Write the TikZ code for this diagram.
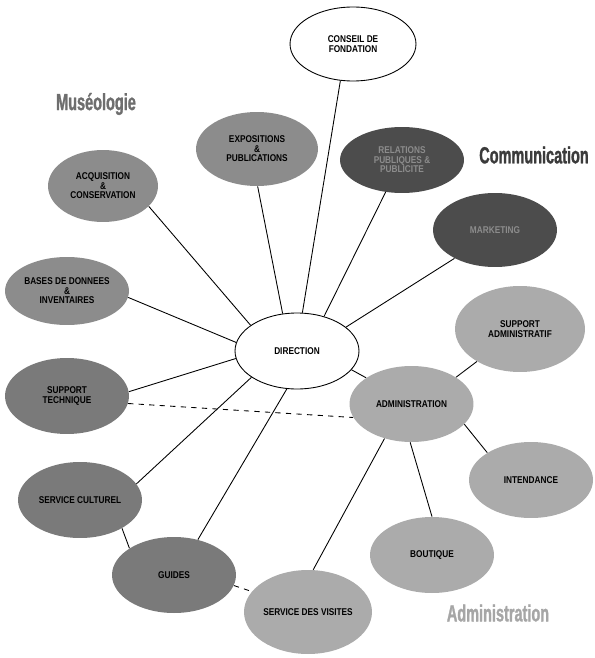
\documentclass[tikz,border=0pt]{standalone}
\usepackage{fontspec}
\usepackage{tikz}
\usetikzlibrary{shapes.geometric}
\newfontfamily\bullefont[FakeStretch=0.84]{Liberation Sans}
\newfontfamily\titrefont[FakeStretch=0.62,FakeBold=1.2]{Liberation Sans}
\definecolor{moyen}{HTML}{8C8C8C}
\definecolor{fonce}{HTML}{7A7A7A}
\definecolor{sombre}{HTML}{4C4C4C}
\definecolor{clair}{HTML}{ABABAB}
\tikzset{
  bulle/.style={ellipse, inner sep=0pt, align=center, minimum width=2.48cm, minimum height=1.52cm,
    font=\bullefont\bfseries\fontsize{5.6}{5.4}\selectfont},
  blanc/.style={bulle, draw=black, fill=white, line width=0.5pt},
  moyenne/.style={bulle, fill=moyen},
  foncee/.style={bulle, fill=fonce},
  sombree/.style={bulle, fill=sombre, text=black!45},
  claire/.style={bulle, fill=clair},
  titre/.style={font=\titrefont\bfseries\fontsize{13.3}{14}\selectfont},
  lien/.style={line width=0.5pt}
}
\begin{document}
\begin{tikzpicture}[x=0.02cm,y=-0.02cm]
 \useasboundingbox (0,0) rectangle (594,658);
 \node[titre, text=black!57] (museo) at (96,104) {Muséologie};
 \node[titre, text=black!77] (commu) at (534,155) {Communication};
 \node[titre, text=black!35] (adminlbl) at (498,613) {Administration};
 \node[blanc, minimum width=2.52cm, minimum height=1.48cm] (conseil) at (353,44) {CONSEIL DE\\FONDATION};
 \node[moyenne, minimum width=2.44cm, minimum height=1.48cm] (expo) at (257,149) {EXPOSITIONS\\\&\\PUBLICATIONS};
 \node[sombree, minimum height=1.32cm] (relations) at (402,160) {RELATIONS\\PUBLIQUES \&\\PUBLICITE};
 \node[sombree, minimum height=1.48cm] (marketing) at (495,230) {MARKETING};
 \node[moyenne, minimum width=2.2cm, minimum height=1.44cm] (acquisition) at (103,186) {ACQUISITION\\\&\\CONSERVATION};
 \node[moyenne, minimum height=1.36cm] (bases) at (67,291) {BASES DE DONNEES\\\&\\INVENTAIRES};
 \node[claire, minimum width=2.6cm, minimum height=1.72cm] (supadmin) at (520,329) {SUPPORT\\ADMINISTRATIF};
 \node[blanc] (direction) at (297,351) {DIRECTION};
 \node[foncee] (technique) at (67,396) {SUPPORT\\TECHNIQUE};
 \node[claire] (admin) at (411.5,404) {ADMINISTRATION};
 \node[claire] (intendance) at (531,480) {INTENDANCE};
 \node[foncee] (culturel) at (80,500) {SERVICE CULTUREL};
 \node[claire] (boutique) at (432,555) {BOUTIQUE};
 \node[foncee] (guides) at (174,575) {GUIDES};
 \node[claire, minimum width=2.56cm, minimum height=1.68cm] (visites) at (308,612) {SERVICE DES VISITES};
 \draw[lien] (conseil.251) -- (direction.82);
 \draw[lien] (expo.271) -- (direction.111);
 \draw[lien] (relations.243) -- (direction.52);
 \draw[lien] (marketing.215) -- (direction.26);
 \draw[lien] (acquisition.336) -- (direction.151);
 \draw[lien] (bases.354) -- (direction.172);
 \draw[lien] (technique.4) -- (direction.187);
 \draw[lien] (culturel.16) -- (direction.210);
 \draw[lien] (guides.56) -- (direction.255);
 \draw[lien] (admin.150) -- (direction.341);
 \draw[lien, dashed] (technique.353) -- (admin.193);
 \draw[lien] (culturel.326) -- (guides.149);
 \draw[lien, dashed] (guides.350) -- (visites.160);
 \draw[lien] (visites.83) -- (admin.232);
 \draw[lien] (admin.268) -- (boutique.90);
 \draw[lien] (admin.339) -- (intendance.148);
 \draw[lien] (admin.31) -- (supadmin.217);
\end{tikzpicture}
\end{document}
